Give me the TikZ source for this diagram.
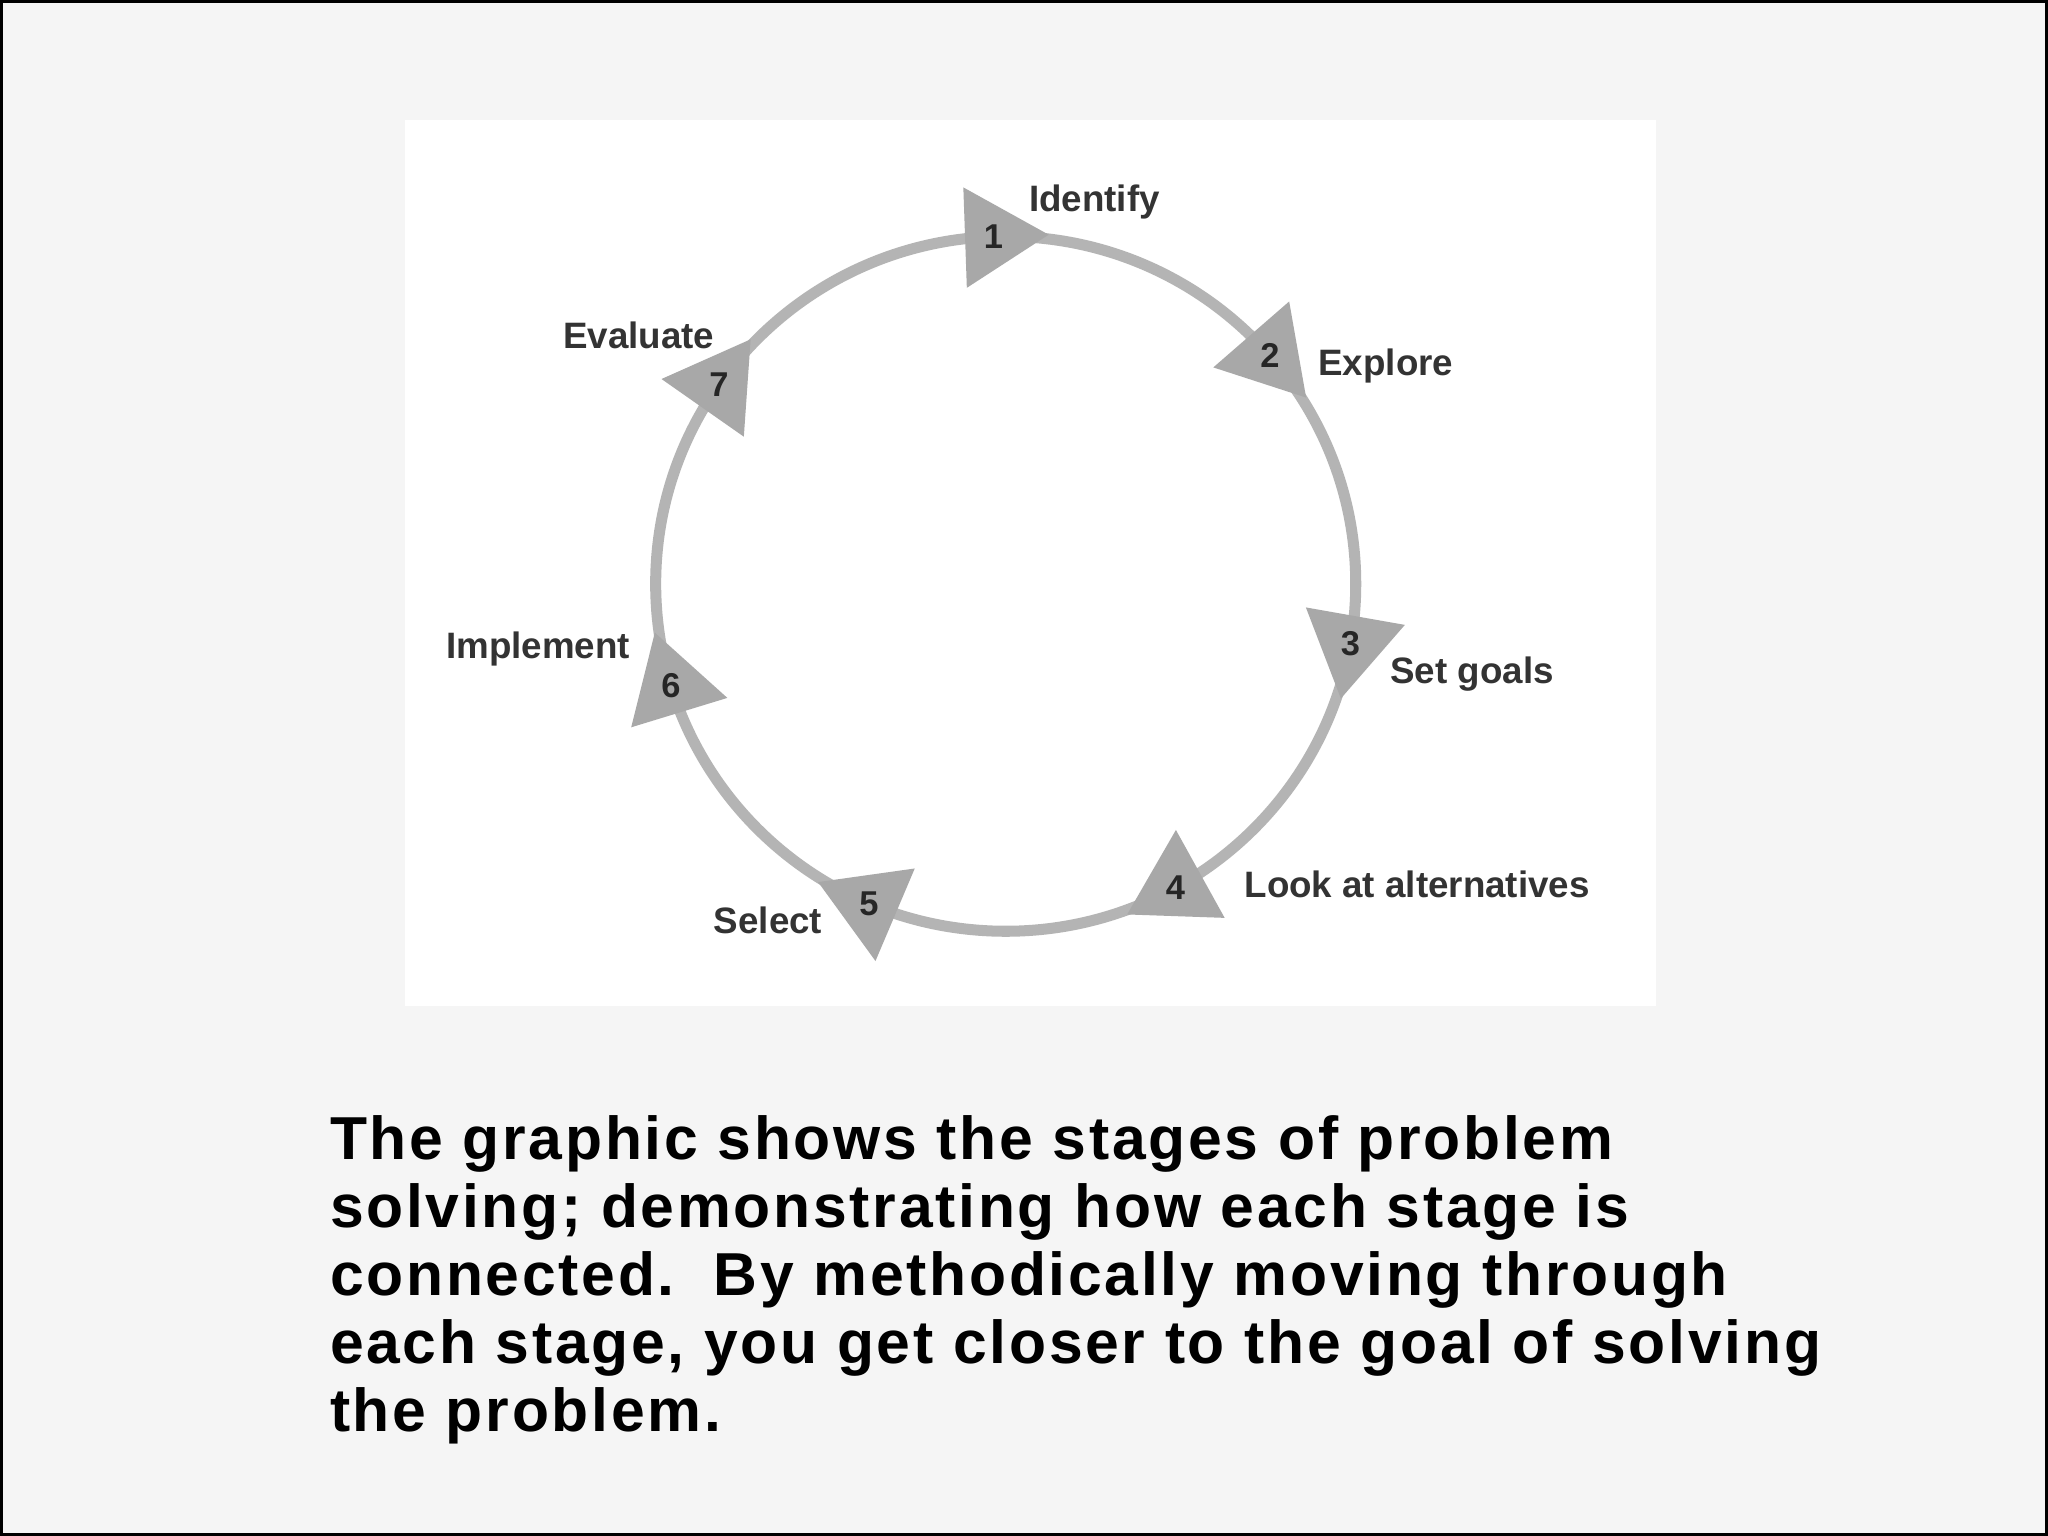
\documentclass[tikz,border=0pt]{standalone}
\usepackage{fontspec}
\setmainfont{Liberation Sans}
\newfontfamily\capfont[LetterSpace=4.5]{Liberation Sans}
\usetikzlibrary{shapes.geometric,calc}
\definecolor{ring}{HTML}{B4B4B4}
\definecolor{tri}{HTML}{A8A8A8}
\begin{document}
\begin{tikzpicture}[x=0.01cm,y=-0.01cm,
  lab/.style={font=\fontsize{8}{9}\selectfont\bfseries,text=black!80},
  num/.style={font=\fontsize{7.5}{9}\selectfont\bfseries,text=black!85},
  captext/.style={anchor=base west,font=\capfont\fontsize{13.2}{15}\selectfont\bfseries,inner sep=0}]
\useasboundingbox (0,0) rectangle (1568,1176);
\fill[black!4] (0,0) rectangle (1568,1176);
\draw[black,line width=0.8pt] (1,1) rectangle (1567,1175);
\fill[white] (310,92) rectangle (1268,770);
\coordinate (c) at (770,447);
\draw[ring,line width=2.4pt] (c) ellipse [x radius=268, y radius=266];
\foreach \a/\n/\k in {92/1/t1,41/2/t2,-10/3/t3,-61/4/t4,-113/5/t5,-163/6/t6,145/7/t7}{
  \node[isosceles triangle,isosceles triangle apex angle=62,fill=tri,minimum height=0.64cm,inner sep=0,
        rotate=\a-90] (\k) at ($(c)+({268*cos(\a)},{-266*sin(\a)})$) {};
  \node[num] at (\k.center) {\n};
}
\node[lab] (l1) at (838,155) {Identify};
\node[lab] (l2) at (1061,280) {Explore};
\node[lab] (l3) at (1127,516) {Set goals};
\node[lab] (l4) at (1085,677) {Look at alternatives};
\node[lab] (l5) at (588,705) {Select};
\node[lab] (l6) at (412,497) {Implement};
\node[lab] (l7) at (489,257) {Evaluate};
\node[captext] (p1) at (252,888) {The graphic shows the stages of problem};
\node[captext] (p2) at (252,940) {solving; demonstrating how each stage is};
\node[captext] (p3) at (252,992) {connected.\ \ By methodically moving through};
\node[captext] (p4) at (252,1044) {each stage, you get closer to the goal of solving};
\node[captext] (p5) at (252,1096) {the problem.};
\end{tikzpicture}
\end{document}
